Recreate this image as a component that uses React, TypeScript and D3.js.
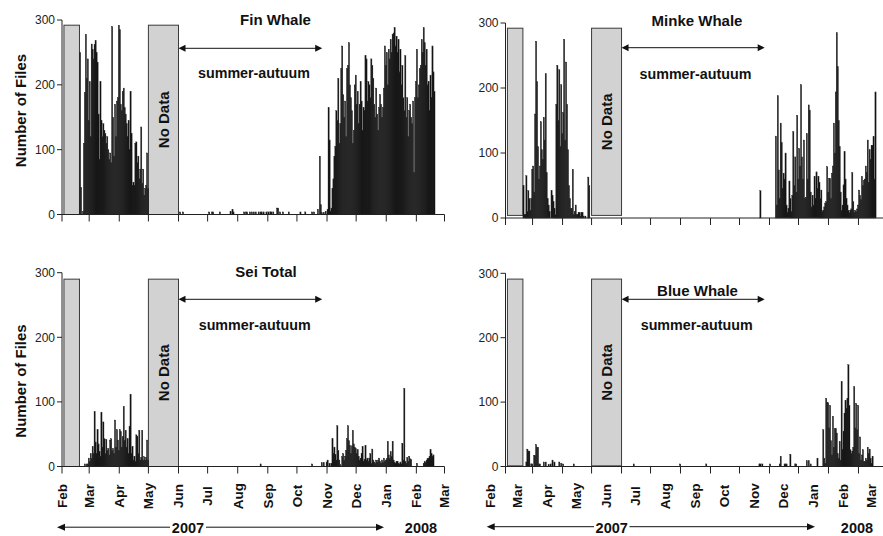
import React from "react";
import * as d3 from "d3";

// ---------- data ----------
const monthLabels = ["Feb", "Mar", "Apr", "May", "Jun", "Jul", "Aug", "Sep", "Oct", "Nov", "Dec", "Jan", "Feb", "Mar"];
const yTicks = [0, 100, 200, 300];
const domainStart = "2007-02-01";
const domainEnd = "2008-03-01";
const noDataBoxes: [string, string][] = [["2007-02-03", "2007-02-19"], ["2007-05-01", "2007-06-01"]];
const seasonArrow: [string, string] = ["2007-06-01", "2007-10-27"];
const seasonLabel = "summer-autuum";
const noDataLabel = "No Data";
const yAxisTitle = "Number of Files";
const yearLabels = ["2007", "2008"];

const finEarlyStart = "2007-02-19";
const finEarly = [250, 42, 0, 5, 110, 188, 278, 210, 240, 145, 205, 120, 263, 255, 240, 262, 268, 250, 235, 155, 85, 205, 145, 120, 140, 130, 125, 110, 120, 100, 85, 95, 80, 290, 150, 90, 170, 120, 175, 180, 292, 285, 170, 160, 190, 195, 165, 155, 140, 120, 145, 100, 190, 125, 45, 50, 45, 110, 112, 80, 90, 55, 70, 135, 48, 70, 30, 40, 45, 95, 40];
const finSummer: [string, number][] = [["2007-06-02", 4], ["2007-06-05", 4], ["2007-07-02", 4], ["2007-07-05", 4], ["2007-07-06", 4], ["2007-07-13", 4], ["2007-07-24", 5], ["2007-07-26", 8], ["2007-07-27", 4], ["2007-08-07", 4], ["2007-08-09", 4], ["2007-08-10", 4], ["2007-08-13", 4], ["2007-08-15", 4], ["2007-08-17", 4], ["2007-08-19", 4], ["2007-08-22", 4], ["2007-08-24", 4], ["2007-08-25", 4], ["2007-08-27", 4], ["2007-08-30", 4], ["2007-09-01", 4], ["2007-09-03", 4], ["2007-09-04", 4], ["2007-09-06", 4], ["2007-09-10", 10], ["2007-09-11", 10], ["2007-09-13", 4], ["2007-09-16", 4], ["2007-09-22", 4], ["2007-10-04", 4], ["2007-10-09", 4], ["2007-10-16", 4], ["2007-10-18", 4], ["2007-10-22", 8]];
const finLateStart = "2007-10-24";
const finLate = [90, 15, 3, 0, 3, 0, 5, 0, 8, 165, 115, 5, 10, 40, 55, 90, 105, 160, 145, 210, 110, 140, 225, 260, 185, 150, 175, 120, 225, 230, 265, 200, 180, 160, 110, 130, 200, 215, 170, 190, 140, 170, 205, 175, 130, 165, 160, 245, 240, 175, 205, 200, 180, 240, 230, 210, 170, 150, 195, 155, 130, 165, 185, 170, 150, 165, 195, 260, 230, 250, 200, 255, 240, 270, 250, 278, 280, 288, 260, 275, 250, 270, 220, 255, 200, 230, 180, 160, 245, 150, 180, 120, 160, 170, 150, 140, 175, 65, 180, 205, 255, 180, 200, 225, 230, 270, 250, 288, 265, 230, 255, 200, 205, 160, 215, 180, 260, 220, 190];

const minkeEarlyStart = "2007-02-19";
const minkeEarly = [50, 5, 5, 65, 10, 42, 30, 12, 30, 75, 80, 40, 160, 272, 210, 110, 60, 80, 148, 105, 90, 155, 120, 222, 70, 30, 20, 10, 0, 42, 35, 25, 15, 5, 175, 235, 150, 228, 110, 205, 130, 162, 275, 120, 240, 175, 105, 50, 30, 15, 15, 75, 5, 10, 20, 5, 5, 8, 8, 3, 8, 8, 3, 0, 3, 0, 0, 63, 50];
const minkeSummer: [string, number][] = [["2007-10-22", 42]];
const minkeLateStart = "2007-11-07";
const minkeLate = [126, 20, 188, 74, 30, 146, 116, 45, 69, 60, 100, 20, 9, 15, 57, 30, 10, 35, 133, 50, 94, 40, 158, 60, 107, 80, 205, 94, 60, 120, 30, 32, 130, 60, 174, 166, 40, 17, 35, 20, 64, 30, 71, 45, 64, 55, 30, 43, 10, 12, 17, 23, 25, 79, 40, 61, 61, 30, 69, 80, 146, 100, 194, 285, 233, 150, 110, 40, 12, 20, 51, 102, 60, 30, 20, 12, 8, 12, 14, 70, 25, 9, 12, 10, 14, 20, 43, 35, 28, 64, 50, 58, 60, 80, 70, 120, 55, 105, 90, 112, 112, 125, 60, 194];

const seiEarlyStart = "2007-02-24";
const seiEarly = [4, 0, 4, 4, 13, 8, 20, 12, 31, 20, 85, 38, 20, 57, 35, 23, 15, 84, 30, 69, 43, 20, 42, 25, 28, 18, 41, 43, 25, 28, 20, 72, 30, 57, 41, 25, 57, 54, 30, 46, 93, 40, 56, 30, 43, 20, 62, 112, 20, 31, 10, 16, 8, 49, 47, 20, 56, 10, 14, 56, 10, 15, 10, 14, 41, 10];
const seiSummer: [string, number][] = [["2007-08-24", 4], ["2007-10-16", 4]];
const seiLateStart = "2007-10-26";
const seiLate = [6, 0, 6, 0, 0, 7, 10, 0, 5, 0, 5, 43, 20, 30, 19, 10, 63, 25, 10, 3, 0, 15, 20, 10, 16, 25, 43, 63, 40, 33, 20, 32, 56, 35, 30, 28, 20, 26, 16, 10, 13, 20, 31, 8, 11, 33, 10, 13, 8, 13, 20, 5, 27, 10, 7, 5, 10, 7, 10, 13, 8, 5, 10, 6, 13, 8, 10, 12, 39, 18, 12, 23, 15, 39, 10, 6, 5, 8, 8, 5, 4, 7, 4, 36, 10, 121, 8, 5, 14, 8, 16, 12, 11, 0, 0, 0, 0, 0, 5, 0, 0, 0, 0, 0, 0, 5, 8, 6, 10, 12, 13, 15, 26, 20, 15, 18, 0];

const blueEarlyStart = "2007-02-22";
const blueEarly = [7, 27, 24, 24, 0, 4, 4, 0, 17, 17, 34, 30, 30, 4, 4, 0, 0, 0, 7, 0, 7, 0, 0, 3, 0, 4, 0, 10, 0, 7, 0, 0, 0, 0, 7, 0, 5, 0, 4, 0, 0, 0, 0, 0, 0, 0, 0, 0, 0, 4];
const blueSparse: [string, number][] = [["2007-06-13", 4], ["2007-07-31", 4], ["2007-08-27", 4], ["2007-10-21", 4], ["2007-10-22", 4], ["2007-10-24", 4], ["2007-11-01", 4], ["2007-11-11", 4], ["2007-11-12", 16], ["2007-11-16", 4], ["2007-11-17", 4], ["2007-11-18", 4], ["2007-11-22", 19], ["2007-11-27", 4], ["2007-11-28", 4], ["2007-12-09", 9], ["2007-12-11", 9], ["2007-12-13", 4]];
const blueLateStart = "2007-12-20";
const blueLate = [13, 0, 0, 0, 0, 0, 57, 13, 5, 106, 100, 99, 60, 95, 40, 18, 78, 30, 59, 59, 52, 20, 13, 39, 10, 132, 26, 55, 83, 103, 90, 106, 158, 95, 26, 20, 24, 30, 124, 60, 98, 57, 95, 20, 46, 10, 18, 26, 8, 8, 13, 10, 30, 20, 27, 13, 5, 16];

// ---------- helpers ----------
const parse = d3.timeParse("%Y-%m-%d");
type Pt = { date: Date; value: number };
const expand = (start: string, values: number[]): Pt[] => {
  const s = parse(start)!;
  return values.map((v, i) => ({ date: d3.timeDay.offset(s, i), value: v }));
};
const sparse = (list: [string, number][]): Pt[] => list.map(([d, v]) => ({ date: parse(d)!, value: v }));

const FONT = "'Liberation Sans', Arial, Helvetica, sans-serif";

const panels = [
  {
    key: "fin", title: "Fin Whale", data: [...expand(finEarlyStart, finEarly), ...sparse(finSummer), ...expand(finLateStart, finLate)],
    x0: 62, x1: 444.5, y0: 214.5, yTop: 20, titleX: 275.5, titleY: 24.5, summerX: 254, summerY: 77.5, arrowY: 48.3,
    boxTop: 292, boxBottom: 0, yLabel: true, yLabelY: 110.5, xLabels: false, labelShift: 0, year: null as any,
  },
  {
    key: "minke", title: "Minke Whale", data: [...expand(minkeEarlyStart, minkeEarly), ...sparse(minkeSummer), ...expand(minkeLateStart, minkeLate)],
    x0: 505.5, x1: 886.5, y0: 218, yTop: 23, titleX: 697, titleY: 26, summerX: 695.5, summerY: 79, arrowY: 47.7,
    boxTop: 292, boxBottom: 4, yLabel: false, yLabelY: 0, xLabels: false, labelShift: 0, year: null as any,
  },
  {
    key: "sei", title: "Sei Total", data: [...expand(seiEarlyStart, seiEarly), ...sparse(seiSummer), ...expand(seiLateStart, seiLate)],
    x0: 62, x1: 444.5, y0: 466.5, yTop: 272.7, titleX: 266, titleY: 276.5, summerX: 254.7, summerY: 329.5, arrowY: 299.3,
    boxTop: 290, boxBottom: 0, yLabel: true, yLabelY: 381, xLabels: true, labelShift: 0,
    year: { y: 527.2, textY: 532.5, left: 57, leftEnd: 170, t1: 188, rightStart: 206, right: 384, t2: 421 },
  },
  {
    key: "blue", title: "Blue Whale", data: [...expand(blueEarlyStart, blueEarly), ...sparse(blueSparse), ...expand(blueLateStart, blueLate)],
    x0: 505.5, x1: 886.5, y0: 466.5, yTop: 273.3, titleX: 697.5, titleY: 296, summerX: 696.7, summerY: 329.5, arrowY: 299.3,
    boxTop: 291, boxBottom: 1, yLabel: false, yLabelY: 0, xLabels: true, labelShift: -15,
    year: { y: 526.7, textY: 532.5, left: 486.7, leftEnd: 594, t1: 611.7, rightStart: 629.5, right: 815, t2: 857 },
  },
];

const head = (tipX: number, y: number, dir: number, len = 7, hw = 3.5) =>
  `M${tipX},${y} L${tipX - dir * len},${y - hw} L${tipX - dir * len},${y + hw} Z`;

function Panel({ cfg }: { cfg: (typeof panels)[number] }) {
  const start = parse(domainStart)!;
  const end = parse(domainEnd)!;
  const x = d3.scaleTime().domain([start, end]).range([cfg.x0, cfg.x1]);
  const y = d3.scaleLinear().domain([0, 300]).range([cfg.y0, cfg.yTop]);
  const months = d3.timeMonth.range(start, d3.timeDay.offset(end, 1));
  const box2 = noDataBoxes[1];
  const b2x = (x(parse(box2[0])!) + x(parse(box2[1])!)) / 2;
  const b2y = (y(cfg.boxTop) + y(cfg.boxBottom)) / 2;
  const ax0 = x(parse(seasonArrow[0])!);
  const ax1 = x(parse(seasonArrow[1])!);
  return (
    <g>
      {/* no-data boxes */}
      {noDataBoxes.map(([a, b], i) => (
        <rect key={i} x={x(parse(a)!)} y={y(cfg.boxTop)} width={x(parse(b)!) - x(parse(a)!)}
          height={y(cfg.boxBottom) - y(cfg.boxTop)} fill="#d2d2d2" stroke="#3a3a3a" strokeWidth={1} />
      ))}
      <text transform={`translate(${b2x},${b2y}) rotate(-90)`} textAnchor="middle" dy="0.36em"
        fontFamily={FONT} fontWeight="bold" fontSize={15} fill="#111">{noDataLabel}</text>
      {/* bars */}
      {cfg.data.filter((d) => d.value > 0).map((d, i) => {
        const bx = x(d.date);
        const bw = x(d3.timeDay.offset(d.date, 1)) - bx;
        return (
          <rect key={i} x={bx} y={y(d.value)} width={bw + 0.25} height={cfg.y0 - y(d.value)}
            fill="#101010" stroke="#2a2a2a" strokeWidth={0.35} />
        );
      })}
      {/* y axis */}
      <line x1={cfg.x0} x2={cfg.x0} y1={y(0)} y2={y(300)} stroke="#222" strokeWidth={1} />
      {yTicks.map((t) => (
        <g key={t}>
          <line x1={cfg.x0 - 5} x2={cfg.x0} y1={y(t)} y2={y(t)} stroke="#222" />
          <text x={cfg.x0 - 7} y={y(t)} dy="0.36em" textAnchor="end" fontFamily={FONT} fontSize={12} fill="#222">{t}</text>
        </g>
      ))}
      {/* x axis */}
      <line x1={cfg.x0} x2={cfg.x1} y1={cfg.y0} y2={cfg.y0} stroke="#222" strokeWidth={1} />
      {months.map((m, i) => (
        <line key={i} x1={x(m)} x2={x(m)} y1={cfg.y0} y2={cfg.y0 + 7} stroke="#222" />
      ))}
      {cfg.xLabels && months.map((m, i) => (
        <text key={i} transform={`translate(${x(m) + cfg.labelShift},496) rotate(-90)`} textAnchor="middle" dy="0.36em"
          fontFamily={FONT} fontWeight="bold" fontSize={13.5} fill="#111">{monthLabels[i]}</text>
      ))}
      {/* title, arrow, season */}
      <text x={cfg.titleX} y={cfg.titleY} textAnchor="middle" fontFamily={FONT} fontWeight="bold" fontSize={15} fill="#111">{cfg.title}</text>
      <line x1={ax0 + 6} x2={ax1 - 6} y1={cfg.arrowY} y2={cfg.arrowY} stroke="#111" strokeWidth={1} />
      <path d={head(ax0, cfg.arrowY, -1)} fill="#111" />
      <path d={head(ax1, cfg.arrowY, 1)} fill="#111" />
      <text x={cfg.summerX} y={cfg.summerY} textAnchor="middle" fontFamily={FONT} fontWeight="bold" fontSize={14.3} fill="#111">{seasonLabel}</text>
      {cfg.yLabel && (
        <text transform={`translate(26,${cfg.yLabelY}) rotate(-90)`} textAnchor="middle" fontFamily={FONT}
          fontWeight="bold" fontSize={15} fill="#111">{yAxisTitle}</text>
      )}
      {cfg.year && (
        <g>
          <line x1={cfg.year.left + 6} x2={cfg.year.leftEnd} y1={cfg.year.y} y2={cfg.year.y} stroke="#111" />
          <path d={head(cfg.year.left, cfg.year.y, -1, 8, 3.5)} fill="#111" />
          <line x1={cfg.year.rightStart} x2={cfg.year.right - 6} y1={cfg.year.y} y2={cfg.year.y} stroke="#111" />
          <path d={head(cfg.year.right, cfg.year.y, 1, 8, 3.5)} fill="#111" />
          <text x={cfg.year.t1} y={cfg.year.textY} textAnchor="middle" fontFamily={FONT} fontWeight="bold" fontSize={14.5} fill="#111">{yearLabels[0]}</text>
          <text x={cfg.year.t2} y={cfg.year.textY} textAnchor="middle" fontFamily={FONT} fontWeight="bold" fontSize={14.5} fill="#111">{yearLabels[1]}</text>
        </g>
      )}
    </g>
  );
}

export default function App() {
  return (
    <svg width={883} height={536} viewBox="0 0 883 536"
      style={{ position: "absolute", left: 0, top: 0, background: "#fff", display: "block" }}>
      <rect x={0} y={0} width={883} height={536} fill="#fff" />
      {panels.map((p) => <Panel key={p.key} cfg={p} />)}
    </svg>
  );
}
